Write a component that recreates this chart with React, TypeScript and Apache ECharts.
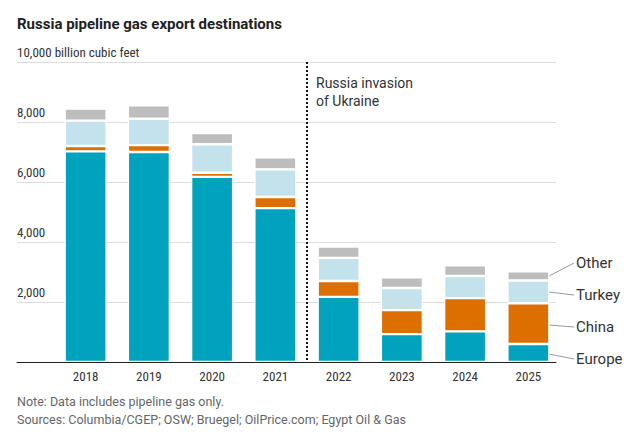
import React, { useEffect, useRef } from "react";
import * as echarts from "echarts";

const years = ["2018", "2019", "2020", "2021", "2022", "2023", "2024", "2025"];
const europe = [7020, 7000, 6170, 5130, 2170, 930, 1020, 600];
const china = [180, 230, 140, 370, 530, 800, 1110, 1360];
const turkey = [845, 880, 950, 920, 770, 735, 735, 755];
const other = [400, 445, 370, 400, 380, 355, 355, 310];
const yTicks = [0, 2000, 4000, 6000, 8000, 10000];

const COND = "'Liberation Sans Narrow', 'Roboto Condensed', 'DejaVu Sans Condensed', sans-serif";
const SANS = "Roboto, 'Noto Sans', sans-serif";

export default function App() {
  const ref = useRef<HTMLDivElement>(null);
  useEffect(() => {
    if (!ref.current) return;
    const chart = echarts.init(ref.current, null, { renderer: "svg" });
    const seg = (name: string, data: number[], color: string) => ({
      name,
      type: "bar",
      stack: "total",
      data,
      barWidth: 42,
      xAxisIndex: 0,
      yAxisIndex: 0,
      itemStyle: { color, borderColor: "#fff", borderWidth: 1.2 },
      emphasis: { disabled: true },
    });
    const legendItems = [
      { text: "Other", y: 263, from: [549, 276] },
      { text: "Turkey", y: 295, from: [549, 292] },
      { text: "China", y: 327, from: [549, 325] },
      { text: "Europe", y: 359, from: [549, 354] },
    ];
    const graphics: any[] = [
      {
        type: "text",
        left: 17,
        top: 16,
        style: { text: "Russia pipeline gas export destinations", font: `bold 15px ${SANS}`, fill: "#222" },
      },
      {
        type: "text",
        left: 316,
        top: 74,
        style: { text: "Russia invasion\nof Ukraine", font: `14px ${SANS}`, fill: "#333", lineHeight: 18 },
      },
      {
        type: "text",
        left: 17,
        top: 395,
        style: { text: "Note: Data includes pipeline gas only.", font: `12.5px ${SANS}`, fill: "#666" },
      },
      {
        type: "text",
        left: 17,
        top: 413,
        style: { text: "Sources: Columbia/CGEP; OSW; Bruegel; OilPrice.com; Egypt Oil & Gas", font: `12.5px ${SANS}`, fill: "#666" },
      },
    ];
    legendItems.forEach((l) => {
      graphics.push({
        type: "line",
        shape: { x1: l.from[0], y1: l.from[1], x2: 574, y2: l.y },
        style: { stroke: "#999", lineWidth: 1 },
      });
      graphics.push({
        type: "text",
        x: 576,
        y: l.y,
        style: { text: l.text, font: `15px ${SANS}`, fill: "#333", verticalAlign: "middle" },
      });
    });

    const option: any = {
      animation: false,
      backgroundColor: "#fff",
      grid: [
        { left: 54, right: 83, top: 62, bottom: 78 },
        { left: 17, right: 87, top: 62, bottom: 78 },
      ],
      xAxis: [
        {
          type: "category",
          data: years,
          gridIndex: 0,
          axisLine: { show: false },
          axisTick: { show: false },
          axisLabel: { color: "#333", fontSize: 13, fontFamily: COND, margin: 8 },
        },
        {
          type: "value",
          gridIndex: 1,
          min: 0,
          max: 1,
          axisLine: { show: true, onZero: false, lineStyle: { color: "#222", width: 1 } },
          axisTick: { show: false },
          axisLabel: { show: false },
          splitLine: { show: false },
        },
      ],
      yAxis: [
        {
          type: "value",
          gridIndex: 0,
          min: 0,
          max: 10000,
          interval: 2000,
          axisLine: { show: false },
          axisTick: { show: false },
          axisLabel: { show: false },
          splitLine: { show: false },
        },
        {
          type: "value",
          gridIndex: 1,
          min: yTicks[0],
          max: yTicks[yTicks.length - 1],
          interval: 2000,
          axisLine: { show: false },
          axisTick: { show: false },
          splitLine: { show: true, lineStyle: { color: "#dcdcdc", width: 1 } },
          axisLabel: {
            inside: true,
            margin: 0,
            verticalAlign: "bottom",
            align: "left",
            padding: [0, 0, 3, 0],
            color: "#333",
            fontSize: 13,
            fontFamily: COND,
            formatter: (v: number) =>
              v === 0 ? "" : v === 10000 ? "10,000 billion cubic feet" : v.toLocaleString("en-US"),
          },
        },
      ],
      series: [
        seg("Europe", europe, "#00a2bd"),
        seg("China", china, "#dd6f00"),
        seg("Turkey", turkey, "#c3e2eb"),
        seg("Other", other, "#bdbdbd"),
      ],
      graphic: graphics,
    };
    chart.setOption(option);

    // dotted invasion line between 2021 and 2022
    const p1 = chart.convertToPixel({ xAxisIndex: 0, yAxisIndex: 0 }, [3, 0]) as number[];
    const p2 = chart.convertToPixel({ xAxisIndex: 0, yAxisIndex: 0 }, [4, 0]) as number[];
    const top = chart.convertToPixel({ xAxisIndex: 0, yAxisIndex: 0 }, [4, 10000]) as number[];
    const xm = (p1[0] + p2[0]) / 2;
    chart.setOption({
      graphic: [
        ...graphics,
        {
          type: "line",
          shape: { x1: xm, y1: top[1], x2: xm, y2: p1[1] },
          style: { stroke: "#111", lineWidth: 2, lineDash: [2, 2] },
          z: 10,
        },
      ],
    });
    return () => chart.dispose();
  }, []);
  return (
    <div
      ref={ref}
      style={{ position: "fixed", left: 0, top: 0, width: 643, height: 440, background: "#fff" }}
    />
  );
}
